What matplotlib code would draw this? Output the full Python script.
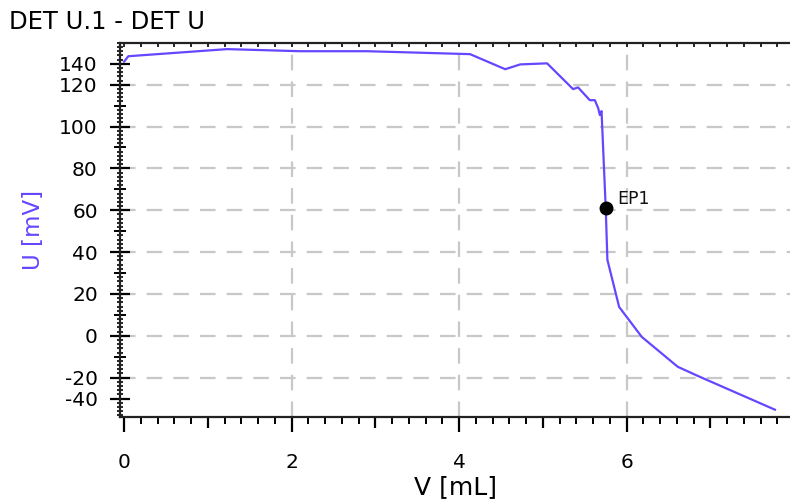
import matplotlib
matplotlib.use("Agg")
import matplotlib.pyplot as plt
from matplotlib.ticker import MultipleLocator, NullFormatter

plt.rcParams['font.family'] = ['DejaVu Sans']

# curva de titulação (V em mL, U em mV)
volume = [0.0, 0.05, 1.23, 2.1, 2.9, 4.13, 4.55, 4.73, 5.05, 5.36, 5.42, 5.56,
          5.62, 5.66, 5.68, 5.70, 5.75, 5.77, 5.91, 6.18, 6.61, 6.84, 7.77]
tensao = [131, 133.6, 137, 136, 136, 134.6, 127.4, 129.7, 130.2, 117.9, 118.7, 112.6,
          112.6, 108.8, 105.5, 107.4, 61, 36.3, 13.8, -0.5, -14.8, -19, -35.3]

ep_v = [5.75]
ep_u = [61]
ep_label = "EP1"

# posições dos rótulos do eixo y (os extremos ficam deslocados para dentro)
y_ticks = [-30, -20, 0, 20, 40, 60, 80, 100, 120, 130]
y_ticklabels = ["-40", "-20", "0", "20", "40", "60", "80", "100", "120", "140"]
x_ticks = [0, 2, 4, 6]
x_mid_ticks = [1, 3, 5, 7]
y_mid_ticks = [-30, -10, 10, 30, 50, 70, 90, 110, 130]

cor = "#6646ff"

fig = plt.figure(figsize=(7.9, 5.04), dpi=100)
ax = fig.add_axes([0.152, 0.173, 0.848, 0.742])

ax.plot(volume, tensao, color=cor, lw=1.6, zorder=3)
ax.plot(ep_v, ep_u, "o", color="black", ms=9, zorder=4)
ax.annotate(ep_label, (ep_v[0], ep_u[0]), xytext=(8, 3), textcoords="offset points",
            fontsize=12.5, color="#111111")

ax.set_xlim(-0.048, 7.95)
ax.set_ylim(-38.7, 140)

ax.set_xticks(x_ticks)
ax.xaxis.set_minor_locator(MultipleLocator(0.2))
ax.set_yticks(y_ticks)
ax.set_yticklabels(y_ticklabels)
ax.yaxis.set_minor_locator(MultipleLocator(2))

ax.grid(True, color="#c8c8c8", linestyle=(0, (7, 5)), lw=1.6)
# sem grade nos extremos e no zero do eixo x
for i, gl in enumerate(ax.yaxis.get_gridlines()):
    if y_ticklabels[i] in ("-40", "140"):
        gl.set_visible(False)
ax.xaxis.get_gridlines()[0].set_visible(False)
ax.set_axisbelow(True)

ax.spines["right"].set_visible(False)
for s in ["left", "bottom", "top"]:
    ax.spines[s].set_linewidth(1.6)
    ax.spines[s].set_color("#222222")

ax.tick_params(axis="x", which="major", direction="out", length=11, width=1.6,
               labelsize=14.5, pad=15)
ax.tick_params(axis="x", which="minor", direction="out", length=5, width=1.4)
ax.tick_params(axis="y", which="major", direction="inout", length=14, width=1.6,
               labelsize=14.5, pad=9)
ax.tick_params(axis="y", which="minor", direction="inout", length=5, width=1.2)

# traços intermediários (inteiros ímpares no x, dezenas no y)
sx = ax.secondary_xaxis("bottom")
sx.set_xticks(x_mid_ticks)
sx.xaxis.set_major_formatter(NullFormatter())
sx.tick_params(direction="out", length=8, width=1.6)
sx.spines["bottom"].set_visible(False)
sy = ax.secondary_yaxis("left")
sy.set_yticks(y_mid_ticks)
sy.yaxis.set_major_formatter(NullFormatter())
sy.tick_params(direction="inout", length=9, width=1.4)
sy.spines["left"].set_visible(False)

# borda de cima com traços pequenos para dentro
st = ax.secondary_xaxis("top")
st.set_xticks(x_ticks + x_mid_ticks)
st.xaxis.set_minor_locator(MultipleLocator(0.2))
st.xaxis.set_major_formatter(NullFormatter())
st.tick_params(which="both", direction="in", length=3, width=1.2)
st.spines["top"].set_visible(False)

ax.set_xlabel("V [mL]", fontsize=18, labelpad=2)
ax.set_ylabel("U [mV]", fontsize=16.5, color=cor, labelpad=10)

fig.text(0.012, 0.932, "DET U.1 - DET U", fontsize=17.5, ha="left", va="bottom")

fig.savefig("out.png", dpi=100)
